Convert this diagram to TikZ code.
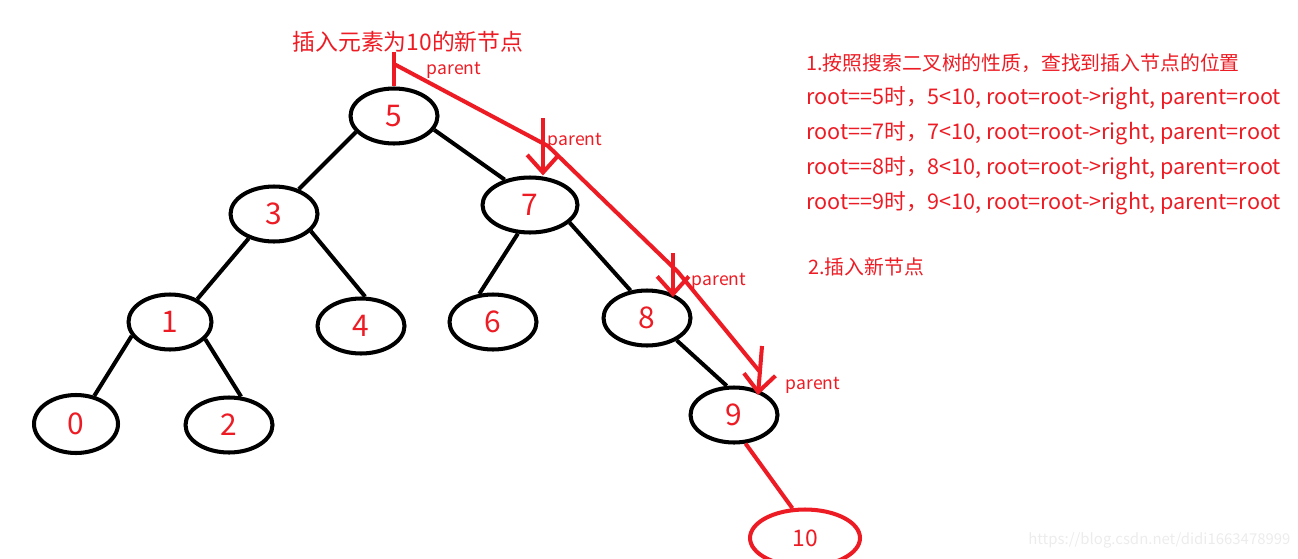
\documentclass[tikz,border=0pt]{standalone}
\usepackage{fontspec}
\setmainfont{Noto Sans CJK SC}
\usetikzlibrary{shapes.geometric,arrows.meta}
\definecolor{mred}{RGB}{237,28,36}

\begin{document}
\begin{tikzpicture}[x=0.02cm, y=-0.02cm,
  bst/.style={ellipse, draw, line width=2.3pt, minimum width=1.74cm, minimum height=1.1cm, inner sep=0pt, text=mred, font=\fontsize{17}{17}\selectfont},
  edge/.style={line width=2.3pt},
  note/.style={text=mred, inner sep=0pt, anchor=west, font=\fontsize{11.3}{11.3}\selectfont},
  step note/.style={note, font=\fontsize{12.3}{12.3}\selectfont},
  par/.style={text=mred, inner sep=0pt, font=\fontsize{10}{10}\selectfont},
  redline/.style={draw=mred, line width=2.3pt},
  down/.style={redline, -{Straight Barb[length=10pt, width=18pt, line width=2.3pt]}}]
  \useasboundingbox (0,0) rectangle (1298,558);
  % tree
  \node[bst] (5) at (394, 116) {5};
  \node[bst] (3) at (274, 214) {3};
  \node[bst, minimum width=1.9cm] (7) at (530, 205) {7};
  \node[bst, minimum width=1.66cm] (1) at (170, 322) {1};
  \node[bst] (4) at (361, 326) {4};
  \node[bst] (6) at (493, 322) {6};
  \node[bst] (8) at (647, 318) {8};
  \node[bst] (9) at (734, 415) {9};
  \node[bst, minimum width=1.68cm, minimum height=1.16cm] (0) at (76, 424) {0};
  \node[bst] (2) at (229, 425) {2};
  \node[bst, draw=mred, minimum width=2.2cm, minimum height=1.14cm, font=\fontsize{13}{13}\selectfont] (10) at (805, 538) {10};
  \draw[edge] (5.203) -- (3.45);
  \draw[edge] (5.341) -- (7.135);
  \draw[edge] (3.224) -- (1.40);
  \draw[edge] (3.335) -- (4.82);
  \draw[edge] (7.247) -- (6.116);
  \draw[edge] (7.336) -- (8.121);
  \draw[edge] (1.200) -- (0.57);
  \draw[edge] (1.334) -- (2.67);
  \draw[edge] (8.323) -- (9.104);
  \draw[redline] (9.292) -- (10.113);
  % search path
  \node[par, font=\fontsize{13}{13}\selectfont] (title) at (408, 42) {插入元素为10的新节点};
  \coordinate (s0) at (394, 52);
  \coordinate (s1) at (394, 64);
  \draw[redline] (s0) -- (5.north);
  \draw[redline] (s1) -- (548, 146) -- (678, 272) -- (760, 372);
  \coordinate (a7) at (543, 118);
  \coordinate (a8) at (673, 253);
  \coordinate (a9) at (762, 346);
  \draw[down] (a7) -- (7.north -| a7);
  \draw[down] (a8) -- (673, 297);
  \draw[down] (a9) -- (758, 395);
  \node[par] (p5) at (454, 70) {parent};
  \node[par] (p7) at (575, 141) {parent};
  \node[par] (p8) at (719, 281) {parent};
  \node[par] (p9) at (813, 385) {parent};
  % notes
  \node[note] (n1) at (806, 63) {1.按照搜索二叉树的性质，查找到插入节点的位置};
  \node[step note] (n2) at (806, 98) {root==5时，5<10, root=root->right, parent=root};
  \node[step note] (n3) at (806, 133) {root==7时，7<10, root=root->right, parent=root};
  \node[step note] (n4) at (806, 168) {root==8时，8<10, root=root->right, parent=root};
  \node[step note] (n5) at (806, 203) {root==9时，9<10, root=root->right, parent=root};
  \node[note] (n6) at (808, 267) {2.插入新节点};
  \node[note, text=gray!15, font=\fontsize{8.5}{8.5}\selectfont] (wm) at (1028, 540) {https://blog.csdn.net/didi1663478999};
\end{tikzpicture}
\end{document}
